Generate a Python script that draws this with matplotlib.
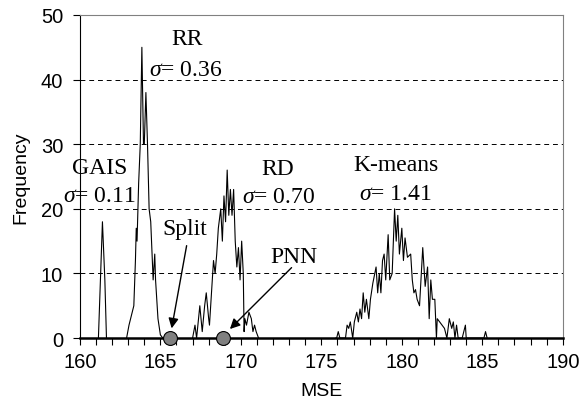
import matplotlib
matplotlib.use("Agg")
import matplotlib.pyplot as plt
from matplotlib.ticker import MultipleLocator

# MSE histograms (x = MSE, y = frequency)
gais_x = [161.15, 161.4, 161.55, 161.65]
gais_y = [0, 18, 9, 0]

rr_x = [162.9, 163.05, 163.15, 163.35, 163.45, 163.5, 163.55, 163.65, 163.75,
        163.85, 163.95, 164.0, 164.1, 164.2, 164.3, 164.4, 164.55, 164.65,
        164.7, 164.85, 165.0, 165.15]
rr_y = [0, 2, 3, 5, 12, 17, 15, 24, 30, 45, 30, 30, 38, 30, 20, 18, 9, 13, 9,
        3, 0.5, 0]

rd_x = [167.0, 167.15, 167.25, 167.45, 167.6, 167.75, 167.85, 168.0, 168.05,
        168.3, 168.4, 168.5, 168.6, 168.75, 168.85, 168.95, 169.05, 169.15,
        169.25, 169.35, 169.45, 169.55, 169.65, 169.75, 169.85, 169.95,
        170.05, 170.15, 170.2, 170.25, 170.35, 170.5, 170.65, 170.75, 170.85,
        170.95, 171.1]
rd_y = [0, 2, 0, 5, 1, 5, 7, 3, 2, 12, 10, 13, 17, 20, 15, 22, 18, 26, 19, 23,
        19, 23, 15, 11, 14, 9, 15, 10, 1, 3, 2, 4, 3, 1, 2, 1, 0]

km_x = [175.9, 175.95, 176.05, 176.15, 176.5, 176.6, 176.7, 176.8, 176.95,
        177.05, 177.2, 177.3, 177.4, 177.5, 177.6, 177.7, 177.8, 177.95,
        178.05, 178.2, 178.4, 178.5, 178.6, 178.7, 178.8, 178.9, 179.0,
        179.15, 179.25, 179.4, 179.55, 179.65, 179.75, 179.85, 180.0, 180.1,
        180.2, 180.35, 180.55, 180.65, 180.75, 180.85, 180.95, 181.1, 181.3,
        181.45, 181.6, 181.7, 181.8, 181.9, 182.05, 182.15, 182.2, 182.35,
        182.5, 182.65, 182.8, 182.95, 183.1, 183.2, 183.3, 183.4, 183.5,
        183.75, 183.95, 184.0, 185.1, 185.2, 185.3]
km_y = [0, 0, 1, 0, 0, 2, 1.5, 2.5, 0, 2.5, 4, 2.5, 4.5, 3, 7, 4, 6, 3, 6,
        8.5, 11, 7, 10, 7, 12, 13, 9, 16, 9, 10, 20, 15, 19, 13, 17, 12, 15.5,
        12.5, 13, 9, 7, 7.5, 6, 5, 14, 8, 11, 3, 9, 6, 6, 0, 3, 2.5, 2, 1.5,
        0, 3, 1.5, 2.5, 0, 2, 0, 0, 2, 0, 0, 1, 0]

# single-result methods shown as dots on the axis
point_names = ["Split", "PNN"]
point_mse = [165.6, 168.9]

labels = ["GAIS", "RR", "RD", "K-means"]
sigmas = [0.11, 0.36, 0.70, 1.41]

serif = "Liberation Serif"
sans = "Liberation Sans"
plt.rcParams["mathtext.fontset"] = "custom"
plt.rcParams["mathtext.rm"] = serif
plt.rcParams["mathtext.it"] = serif + ":italic"

fig = plt.figure(figsize=(5.79, 4.10), dpi=100)
ax = fig.add_axes([0.138, 0.173, 0.834, 0.788])

for xs, ys in [(gais_x, gais_y), (rr_x, rr_y), (rd_x, rd_y), (km_x, km_y)]:
    ax.plot(xs, ys, color="black", linewidth=0.8, zorder=3)

ax.plot(point_mse, [0] * len(point_mse), "o", markersize=10,
        markerfacecolor="#808080", markeredgecolor="black",
        markeredgewidth=0.8, zorder=5, clip_on=False)

ax.set_xlim(160, 190)
ax.set_ylim(0, 50)
ax.xaxis.set_major_locator(MultipleLocator(5))
ax.xaxis.set_minor_locator(MultipleLocator(1))
ax.yaxis.set_major_locator(MultipleLocator(10))
ax.tick_params(axis="both", which="both", direction="out", length=5,
               width=0.8, labelsize=14.5)
ax.tick_params(axis="y", pad=7)
ax.tick_params(axis="x", pad=5)
for lab in ax.get_xticklabels() + ax.get_yticklabels():
    lab.set_fontfamily(sans)

for y in [10, 20, 30, 40]:
    ax.axhline(y, color="black", linestyle=(0, (5, 4)), linewidth=0.7, zorder=1)

ax.spines["top"].set_color("#808080")
ax.spines["right"].set_color("#808080")
ax.spines["left"].set_linewidth(0.8)
ax.spines["bottom"].set_linewidth(1.8)

ax.set_xlabel("MSE", fontfamily=sans, fontsize=14, labelpad=8)
ax.set_ylabel("Frequency", fontfamily=sans, fontsize=14, labelpad=8)

fs = 17
name_pos = [(161.24, 26.4), (166.65, 46.3), (172.27, 26.3), (179.61, 26.8)]
sigma_pos = [(161.21, 22.1), (166.58, 41.5), (172.36, 21.9), (179.6, 22.3)]
for name, s, (nx, ny), (sx, sy) in zip(labels, sigmas, name_pos, sigma_pos):
    ax.text(nx, ny, name, fontfamily=serif, fontsize=fs, ha="center", va="center")
    ax.text(sx, sy, r"$\sigma$= " + f"{s:.2f}", fontfamily=serif, fontsize=fs,
            ha="center", va="center")

ax.text(166.52, 16.9, "Split", fontfamily=serif, fontsize=fs,
        ha="center", va="center")
ax.text(173.29, 12.7, "PNN", fontfamily=serif, fontsize=fs,
        ha="center", va="center")
arrow = dict(arrowstyle="-|>", color="black", lw=1.0, mutation_scale=15,
             shrinkA=0, shrinkB=0)
ax.annotate("", xy=(165.7, 1.5), xytext=(166.63, 14.3), arrowprops=arrow)
ax.annotate("", xy=(169.32, 1.4), xytext=(173.15, 10.9), arrowprops=arrow)

fig.savefig("out.png", dpi=100)
